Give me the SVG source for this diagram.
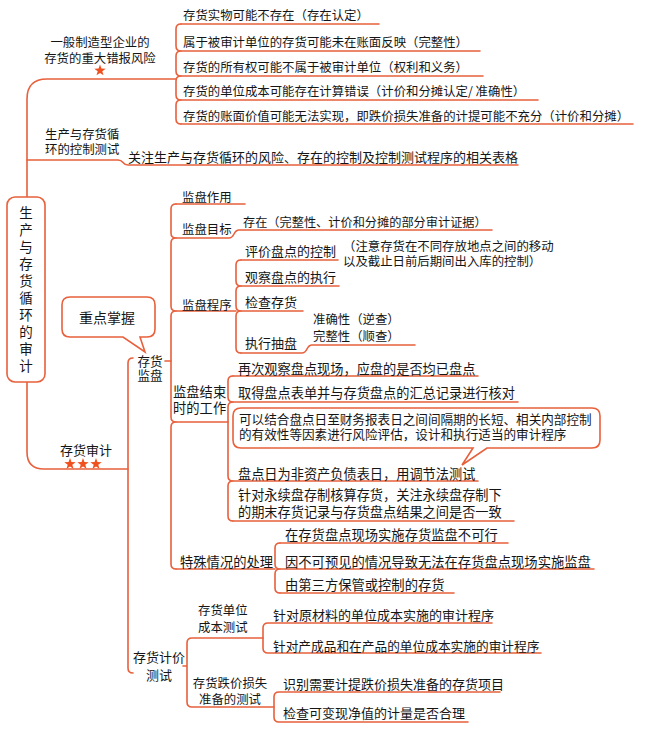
<svg xmlns="http://www.w3.org/2000/svg" width="650" height="734" viewBox="0 0 650 734">
<style>
.ln{fill:none;stroke:#e8603c;stroke-width:1.6;stroke-linecap:round;stroke-linejoin:round}
.bx{fill:#fff;stroke:#e8603c;stroke-width:1.6}
.t{font-family:"Noto Sans CJK SC","Noto Sans CJK TC",sans-serif;fill:#151515;font-size:13px}
.s{font-size:12.4px}
.m{text-anchor:middle}
.star{fill:#f0501e}
</style>
<defs>
<polygon id="star" points="0,-6 1.41,-1.94 5.71,-1.85 2.28,0.74 3.53,4.85 0,2.4 -3.53,4.85 -2.28,0.74 -5.71,-1.85 -1.41,-1.94"/>
</defs>
<rect width="650" height="734" fill="#fff"/>

<g id="connectors" class="ln">
<path d="M176,79 H47 Q27,79 27,99 V197"/>
<path d="M27,382 V452 Q27,469 44,469 H128"/>
<path d="M27,160 H118 C124,160 122,165 128,165 H518"/>
<path d="M181,24 Q176,24 176,29 V46 Q176,51 181,51 M181,51 Q176,51 176,56 V71 Q176,76 181,76 M181,76 Q176,76 176,81 V95 Q176,100 181,100 M181,100 Q176,100 176,105 V119 Q176,124 181,124"/>
<path d="M181,24 H379 M181,51 H480 M181,76 H483 M181,100 H538 M181,124 H633"/>
<path d="M133,358 Q128,358 128,363 V668 Q128,673 133,673"/>
<path d="M176,204 Q171,204 171,209 V233 Q171,238 176,238 M176,238 Q171,238 171,243 V306 Q171,311 176,311 M176,311 Q171,311 171,316 V417 Q171,422 176,422 M176,422 Q171,422 171,427 V564 Q171,569 176,569"/>
<path d="M176,204 H245 M176,238 H229 C235,238 233,230 239,230 H492 M176,311 H236 M176,422 H228 M176,569 H275 M165,361 H171"/>
<path d="M241,260 Q236,260 236,265 V281 Q236,286 241,286 M241,286 Q236,286 236,291 V306 Q236,311 241,311 M241,311 Q236,311 236,316 V348 Q236,353 241,353"/>
<path d="M241,260 H338 M241,286 H339 M241,311 H303 M241,353 H302 C308,353 306,345 312,345 H415"/>
<path d="M233,376 Q228,376 228,381 V397 Q228,402 233,402 M233,402 Q228,402 228,407 V476 Q228,481 233,481 M233,481 Q228,481 228,486 V516 Q228,521 233,521"/>
<path d="M233,376 H478 M233,402 H518 M233,481 H478 M233,521 H514"/>
<path d="M280,543 Q275,543 275,548 V564 Q275,569 280,569 M280,569 Q275,569 275,574 V588 Q275,593 280,593"/>
<path d="M280,543 H508 M280,569 H594 M280,593 H454"/>
<path d="M192,638 Q187,638 187,643 V702 Q187,707 192,707 M192,638 H263 M192,707 H274 M183,666 H187"/>
<path d="M268,623 Q263,623 263,628 V648 Q263,653 268,653 M268,623 H492 M268,653 H541"/>
<path d="M279,692 Q274,692 274,697 V717 Q274,722 279,722 M279,692 H500 M279,722 H468"/>
</g>

<g id="root">
<rect class="bx" x="7" y="197" width="38" height="185" rx="8"/>
<text class="t m" style="font-size:13.5px" x="26">
<tspan x="26" y="218">生</tspan><tspan x="26" y="235">产</tspan><tspan x="26" y="252">与</tspan><tspan x="26" y="269">存</tspan><tspan x="26" y="286">货</tspan><tspan x="26" y="303">循</tspan><tspan x="26" y="320">环</tspan><tspan x="26" y="337">的</tspan><tspan x="26" y="354">审</tspan><tspan x="26" y="371">计</tspan>
</text>
</g>

<g id="risk">
<text class="t s m" x="100" y="47">一般制造型企业的</text>
<text class="t s m" x="100" y="63">存货的重大错报风险</text>
<use href="#star" class="star" x="100" y="70.5"/>
<text class="t s" x="183" y="19.5">存货实物可能不存在（存在认定）</text>
<text class="t s" x="183" y="46.5">属于被审计单位的存货可能未在账面反映（完整性）</text>
<text class="t s" x="183" y="71.5">存货的所有权可能不属于被审计单位（权利和义务）</text>
<text class="t s" x="183" y="95.5">存货的单位成本可能存在计算错误（计价和分摊认定/ 准确性）</text>
<text class="t s" x="183" y="120.5">存货的账面价值可能无法实现，即跌价损失准备的计提可能不充分（计价和分摊）</text>
</g>

<g id="control">
<text class="t s" x="45" y="139">生产与存货循</text>
<text class="t s" x="45" y="154">环的控制测试</text>
<text class="t" x="128" y="161.5">关注生产与存货循环的风险、存在的控制及控制测试程序的相关表格</text>
</g>

<g id="audit">
<text class="t m" x="86" y="454.5">存货审计</text>
<use href="#star" class="star" x="70" y="464"/>
<use href="#star" class="star" x="83" y="464"/>
<use href="#star" class="star" x="96" y="464"/>
</g>

<g id="focus">
<path class="bx" d="M70,297 H147 Q155,297 155,305 V329 Q155,337 147,337 H140 L145,352 L123,337 H70 Q62,337 62,329 V305 Q62,297 70,297 Z"/>
<text class="t m" style="font-size:14px" x="107" y="323">重点掌握</text>
</g>

<g id="count">
<text class="t m" style="font-size:12.6px" x="150" y="366">存货</text>
<text class="t m" style="font-size:12.6px" x="150" y="380">监盘</text>
</g>

<g id="purpose">
<text class="t s" x="182" y="201.5">监盘作用</text>
</g>

<g id="goal">
<text class="t s" x="182" y="233.5">监盘目标</text>
<text class="t" style="font-size:12.2px" x="243" y="227">存在（完整性、计价和分摊的部分审计证据）</text>
</g>

<g id="procedure">
<text class="t s" x="182" y="309.5">监盘程序</text>
<text class="t" x="245" y="255.5">评价盘点的控制</text>
<text class="t s" x="343" y="250.5">（注意存货在不同存放地点之间的移动</text>
<text class="t s" x="343" y="265.5">以及截止日前后期间出入库的控制）</text>
<text class="t" x="245" y="281.5">观察盘点的执行</text>
<text class="t" x="245" y="306.5">检查存货</text>
<text class="t" x="245" y="347.5">执行抽盘</text>
<text class="t s" x="313" y="324">准确性（逆查）</text>
<text class="t s" x="313" y="340.5">完整性（顺查）</text>
</g>

<g id="end-work">
<text class="t" style="font-size:13.3px" x="173" y="397">监盘结束</text>
<text class="t" style="font-size:13.3px" x="173" y="413">时的工作</text>
<text class="t" style="font-size:13.2px" x="238" y="373.5">再次观察盘点现场，应盘的是否均已盘点</text>
<text class="t" style="font-size:13.2px" x="238" y="397.5">取得盘点表单并与存货盘点的汇总记录进行核对</text>
<path class="bx" d="M241,408 H592 Q600,408 600,416 V440 Q600,448 592,448 H487 L462,465 L473,448 H241 Q233,448 233,440 V416 Q233,408 241,408 Z"/>
<text class="t" style="font-size:12.6px" x="239" y="424">可以结合盘点日至财务报表日之间间隔期的长短、相关内部控制</text>
<text class="t" style="font-size:12.6px" x="239" y="439">的有效性等因素进行风险评估，设计和执行适当的审计程序</text>
<text class="t" style="font-size:13.2px" x="238" y="478.5">盘点日为非资产负债表日，用调节法测试</text>
<text class="t" style="font-size:13.2px" x="238" y="500">针对永续盘存制核算存货，关注永续盘存制下</text>
<text class="t" style="font-size:13.2px" x="238" y="516.5">的期末存货记录与存货盘点结果之间是否一致</text>
</g>

<g id="special">
<text class="t" style="font-size:13.3px" x="180" y="566.5">特殊情况的处理</text>
<text class="t" style="font-size:13.3px" x="285" y="539.5">在存货盘点现场实施存货监盘不可行</text>
<text class="t" style="font-size:13.3px" x="285" y="566.5">因不可预见的情况导致无法在存货盘点现场实施监盘</text>
<text class="t" style="font-size:13.3px" x="285" y="589.5">由第三方保管或控制的存货</text>
</g>

<g id="pricing">
<text class="t" x="133" y="662">存货计价</text>
<text class="t m" x="159" y="680">测试</text>
</g>

<g id="unit-cost">
<text class="t s" x="198" y="615">存货单位</text>
<text class="t s" x="198" y="632">成本测试</text>
<text class="t" x="273" y="619.5">针对原材料的单位成本实施的审计程序</text>
<text class="t" style="font-size:12.7px" x="273" y="650.5">针对产成品和在产品的单位成本实施的审计程序</text>
</g>

<g id="impairment">
<text class="t s m" x="230" y="688">存货跌价损失</text>
<text class="t s m" x="230" y="704">准备的测试</text>
<text class="t" x="283" y="688.5">识别需要计提跌价损失准备的存货项目</text>
<text class="t" x="283" y="717.5">检查可变现净值的计量是否合理</text>
</g>
</svg>
